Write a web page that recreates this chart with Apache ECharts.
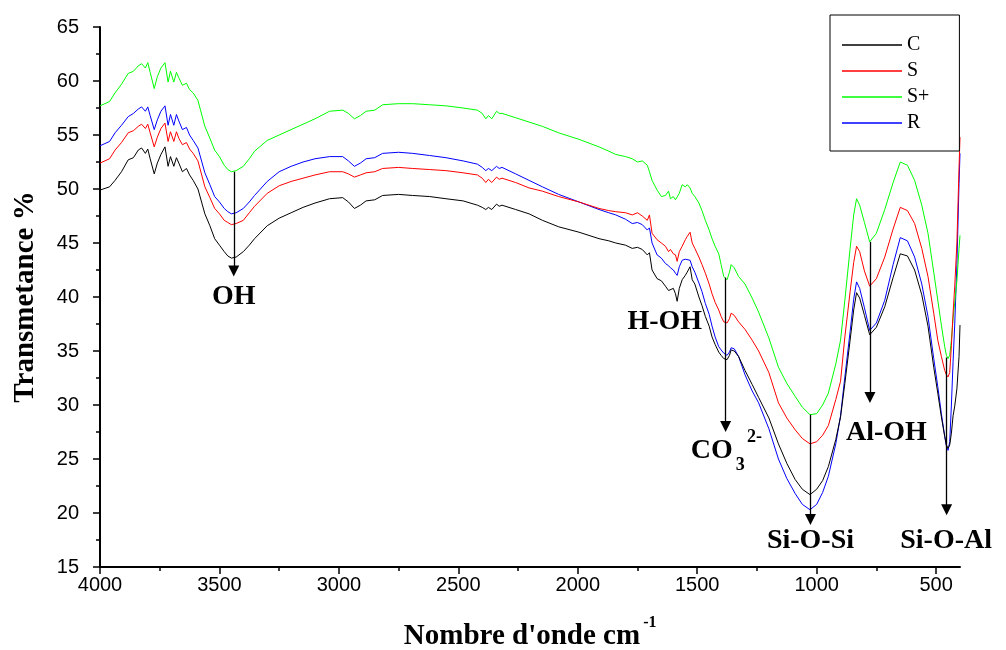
<!DOCTYPE html>
<html><head><meta charset="utf-8">
<script src="https://cdn.jsdelivr.net/npm/echarts@6/dist/echarts.min.js"></script>
<style>html,body{margin:0;padding:0;background:#fff}#c{width:1006px;height:650px}</style>
</head><body><div id="c"></div>
<script>
// ---- data (wavenumber, cm-1) ----
const wavenumbers = [
4000,3960,3937,3910,3882,3860,3840,3826,3810,3800,
3790,3773,3760,3745,3728,3715,3705,3691,3680,3670,
3655,3638,3625,3610,3590,3561,3540,3520,3500,3480,
3465,3450,3430,3400,3375,3353,3300,3250,3200,3150,
3100,3039,2984,2960,2935,2910,2886,2850,2817,2750,
2691,2620,2552,2480,2420,2400,2385,2374,2360,2340,
2329,2317,2260,2204,2148,2080,1995,1911,1870,1841,
1800,1772,1750,1730,1709,1700,1689,1668,1650,1633,
1620,1612,1600,1591,1584,1575,1563,1550,1542,1530,
1521,1510,1493,1480,1466,1450,1438,1425,1410,1400,
1389,1375,1365,1358,1345,1327,1300,1270,1243,1200,
1160,1125,1090,1060,1028,1000,975,951,920,900,
882,860,845,833,820,800,778,750,715,680,
650,620,590,560,534,510,493,478,464,457,
450,443,436,429,422,413,404,400];
const seriesC = [
49.9,50.2,50.8,51.6,52.7,52.9,53.6,53.8,53.3,53.7,
52.8,51.4,52.4,53.2,53.9,52.1,53.0,52.1,52.9,52.4,
51.6,51.9,51.3,50.8,50.0,47.7,46.6,45.4,44.8,44.2,
43.8,43.6,43.7,44.2,44.8,45.4,46.6,47.3,47.8,48.3,
48.7,49.1,49.2,48.8,48.2,48.5,48.9,49.0,49.4,49.5,
49.4,49.3,49.1,48.9,48.5,48.3,48.1,48.3,48.1,48.6,
48.4,48.5,48.1,47.7,47.1,46.5,46.0,45.4,45.2,45.0,
44.8,44.5,44.6,44.4,43.9,44.1,42.5,41.7,41.5,41.0,
40.6,40.5,40.8,40.3,39.6,40.8,41.6,42.0,42.3,42.8,
41.6,41.2,40.0,39.2,38.2,37.3,36.3,35.6,34.9,34.6,
34.3,34.2,34.6,35.1,35.0,34.5,33.2,31.9,30.7,28.8,
26.4,24.6,23.1,22.2,21.7,22.2,23.0,24.3,26.8,28.9,
32.0,36.0,38.8,40.4,39.9,38.3,36.5,37.2,39.1,41.8,
44.0,43.8,42.5,40.2,37.3,33.5,31.1,28.9,27.1,26.3,
26.0,26.3,27.4,29.0,29.9,31.5,34.5,37.4];
const seriesS = [
52.4,52.8,53.6,54.3,55.2,55.4,55.8,56.0,55.6,56.0,
55.2,53.9,54.8,55.6,56.1,54.4,55.3,54.4,55.3,54.7,
54.1,54.3,53.7,53.3,52.6,50.2,49.2,48.2,47.7,47.1,
46.9,46.7,46.8,47.1,47.8,48.4,49.6,50.3,50.7,51.0,
51.3,51.6,51.6,51.4,51.1,51.3,51.5,51.6,51.9,52.0,
51.9,51.8,51.7,51.5,51.3,51.0,50.6,50.9,50.6,51.1,
50.9,51.0,50.6,50.1,49.8,49.3,48.8,48.2,48.0,47.9,
47.8,47.6,47.8,47.5,47.1,47.6,45.9,45.3,45.0,44.7,
44.2,44.4,44.0,43.9,43.3,44.2,44.7,45.3,45.6,46.0,
45.0,44.5,43.7,43.0,42.2,41.2,40.3,39.5,38.8,38.2,
37.7,37.6,38.0,38.5,38.3,37.7,37.0,36.0,35.0,33.0,
30.2,28.8,27.7,26.9,26.4,26.6,27.2,28.1,30.5,32.2,
36.3,40.5,43.2,44.7,44.2,42.4,41.0,41.7,43.7,46.3,
48.3,48.0,46.8,44.5,41.9,38.5,36.0,34.5,33.2,32.8,
32.6,33.0,35.5,38.5,41.0,45.0,52.0,54.8];
const seriesSplus = [
57.7,58.1,58.9,59.7,60.7,60.9,61.4,61.6,61.2,61.7,
60.8,59.3,60.4,61.2,61.7,59.9,60.9,59.9,60.8,60.3,
59.6,59.8,59.2,58.9,58.2,55.8,54.7,53.6,53.0,52.2,
51.8,51.6,51.7,52.1,52.8,53.5,54.5,55.0,55.5,56.0,
56.5,57.2,57.3,57.0,56.5,56.8,57.2,57.3,57.8,57.9,
57.9,57.8,57.7,57.5,57.3,57.0,56.5,56.8,56.5,57.2,
57.0,57.0,56.6,56.2,55.8,55.2,54.6,53.9,53.5,53.2,
53.0,52.8,52.5,52.6,52.2,51.6,50.8,49.9,49.3,49.4,
49.8,49.1,49.3,49.0,48.9,49.6,50.4,50.2,50.4,50.1,
49.6,49.3,48.7,48.0,47.1,46.2,45.4,44.7,44.0,43.0,
41.9,41.6,42.3,43.0,42.7,41.9,41.2,39.9,38.6,36.2,
33.5,32.0,30.8,29.8,29.1,29.2,30.0,31.1,33.8,36.0,
39.7,44.5,47.6,49.1,48.5,46.9,45.1,45.9,48.1,50.6,
52.5,52.2,50.8,48.5,45.9,42.3,39.7,37.4,35.4,34.6,
34.3,34.6,36.0,38.0,39.5,41.5,44.5,45.7];
const seriesR = [
54.0,54.4,55.2,55.9,56.7,57.0,57.4,57.6,57.2,57.6,
56.8,55.5,56.4,57.2,57.7,55.9,56.9,55.9,56.9,56.3,
55.5,55.7,55.0,54.5,53.8,51.5,50.4,49.3,48.8,48.2,
47.9,47.7,47.8,48.2,48.8,49.4,50.7,51.6,52.1,52.5,
52.8,53.0,53.0,52.6,52.1,52.4,52.8,52.9,53.3,53.4,
53.3,53.1,52.9,52.6,52.3,52.0,51.7,51.9,51.7,52.1,
51.9,52.0,51.4,50.8,50.2,49.5,48.8,48.1,47.8,47.6,
47.2,46.8,46.9,46.7,46.2,46.4,45.0,43.9,43.6,43.1,
42.9,42.7,42.5,42.2,42.0,42.8,43.4,43.5,43.6,43.4,
42.8,42.3,41.3,40.5,39.4,38.4,37.3,36.3,35.4,35.1,
34.8,34.6,34.9,35.3,35.2,34.5,32.8,31.3,30.2,27.8,
25.0,23.2,21.8,20.8,20.3,20.8,21.9,23.4,26.4,29.0,
32.6,36.8,39.8,41.4,40.8,39.0,36.9,37.6,39.7,43.0,
45.5,45.2,43.7,41.2,38.2,34.3,31.7,29.2,27.1,26.2,
25.8,26.6,30.0,34.0,37.5,43.0,50.5,53.3];
const seriesNames = ['C','S','S+','R'];
const seriesColors = ['#000000','#ff0000','#00ff00','#0000ff'];
const xTickValues = [4000,3500,3000,2500,2000,1500,1000,500];
const xMinorTickValues = [3750,3250,2750,2250,1750,1250,750];
// annotation arrows: [wavenumber, start %, end %]
const arrowX = [3440, 1381, 1026, 777, 456];
const arrowFrom = [51.6, 41.8, 29.1, 45.1, 34.4];
const arrowTo = [42.4, 28.0, 19.4, 30.7, 20.3];
// annotation texts: text, wavenumber, %
const labelTexts = ['OH','H-OH','Si-O-Si','Al-OH','Si-O-Al'];
const labelX = [3440, 1636, 1026, 708, 458];
const labelY = [40.0, 37.7, 17.4, 27.4, 17.4];

const chart = echarts.init(document.getElementById('c'), null, {renderer:'canvas'});
const sets = [seriesC, seriesS, seriesSplus, seriesR];
const axisFont = 'Liberation Sans';
const serif = 'Liberation Serif';
const series = sets.map((arr, k) => ({
  name: seriesNames[k], type: 'line', xAxisIndex: 0, yAxisIndex: 0,
  data: wavenumbers.map((w, i) => [w, arr[i]]),
  showSymbol: false, symbol: 'none', color: seriesColors[k],
  lineStyle: {width: 1, color: seriesColors[k]}, silent: true, z: 3 - k
}));
series[0].markLine = {
  silent: true, symbol: ['none', 'path://M5,0 L10,16 L0,16 Z'], symbolSize: 11,
  label: {show: false}, lineStyle: {color: '#000', width: 1.3, type: 'solid'},
  emphasis: {disabled: true}, animation: false,
  data: arrowX.map((x, i) => [{coord: [x, arrowFrom[i]]}, {coord: [x, arrowTo[i]]}])
};
series[0].z = 5;

chart.setOption({
  animation: false,
  backgroundColor: '#fff',
  grid: {left: 100, right: 46, top: 27, bottom: 83, containLabel: false, outerBoundsMode: 'none'},
  legend: {
    orient: 'vertical', left: 830, top: 15, data: seriesNames,
    icon: 'rect', itemWidth: 60, itemHeight: 1.5, itemGap: 6,
    padding: [20, 30, 18, 12], borderColor: '#000', borderWidth: 1,
    backgroundColor: '#fff', selectedMode: false,
    textStyle: {fontFamily: serif, fontSize: 20, color: '#000', lineHeight: 19}
  },
  xAxis: [{
    type: 'value', min: 400, max: 4000, inverse: true, position: 'bottom',
    axisLine: {show: true, onZero: false, lineStyle: {color: '#000', width: 2}},
    axisTick: {show: true, inside: false, length: 7, customValues: xTickValues, lineStyle: {color: '#000', width: 1.5}},
    axisLabel: {customValues: xTickValues, formatter: v => String(v), color: '#000', fontFamily: axisFont, fontSize: 20, margin: 8},
    splitLine: {show: false}
  }, {
    type: 'value', min: 400, max: 4000, inverse: true, position: 'bottom',
    axisLine: {show: false, onZero: false},
    axisTick: {show: true, inside: false, length: 4, customValues: xMinorTickValues, lineStyle: {color: '#000', width: 1.5}},
    axisLabel: {show: false, customValues: xMinorTickValues},
    splitLine: {show: false}
  }],
  yAxis: {
    type: 'value', min: 15, max: 65, interval: 5,
    axisLine: {show: true, onZero: false, lineStyle: {color: '#000', width: 2}},
    axisTick: {show: true, length: 7, lineStyle: {color: '#000', width: 1.5}},
    minorTick: {show: true, splitNumber: 2, length: 4, lineStyle: {color: '#000', width: 1.5}},
    axisLabel: {color: '#000', fontFamily: axisFont, fontSize: 20, margin: 21},
    splitLine: {show: false},
    name: 'Transmetance %', nameLocation: 'middle', nameRotate: 90, nameGap: 60,
    nameTextStyle: {fontFamily: serif, fontWeight: 'bold', fontSize: 29, color: '#000'}
  },
  series: series
});

function px(x, y) { return chart.convertToPixel({xAxisIndex: 0, yAxisIndex: 0}, [x, y]); }
const ctx = document.createElement('canvas').getContext('2d');
function measure(t, font) { ctx.font = font; return ctx.measureText(t).width; }

const g = [];
const boldFont = 'bold 28px "Liberation Serif"';
labelTexts.forEach((t, i) => {
  const p = px(labelX[i], labelY[i]);
  g.push({type: 'text', x: p[0], y: p[1], z: 10, style: {text: t, font: boldFont, fill: '#000', align: 'center', verticalAlign: 'middle'}});
});
// CO3 2-
const pCO = px(1439, 25.8), p3 = px(1320, 24.4), p2 = px(1260, 27.0);
g.push({type: 'text', x: pCO[0], y: pCO[1], z: 10, style: {text: 'CO', font: boldFont, fill: '#000', align: 'center', verticalAlign: 'middle'}});
g.push({type: 'text', x: p3[0], y: p3[1], z: 10, style: {text: '3', font: 'bold 18px "Liberation Serif"', fill: '#000', align: 'center', verticalAlign: 'middle'}});
g.push({type: 'text', x: p2[0], y: p2[1], z: 10, style: {text: '2-', font: 'bold 18px "Liberation Serif"', fill: '#000', align: 'center', verticalAlign: 'middle'}});
// x axis title with superscript
const tFont = 'bold 29px "Liberation Serif"';
const main = "Nombre d'onde cm";
const wMain = measure(main, tFont);
const left = 522 - wMain / 2;
g.push({type: 'text', x: left, y: 637, z: 10, style: {text: main, font: tFont, fill: '#000', align: 'left', verticalAlign: 'middle'}});
g.push({type: 'text', x: left + wMain + 3, y: 623, z: 10, style: {text: '-1', font: 'bold 16px "Liberation Serif"', fill: '#000', align: 'left', verticalAlign: 'middle'}});
chart.setOption({graphic: g});
</script>
</body></html>
